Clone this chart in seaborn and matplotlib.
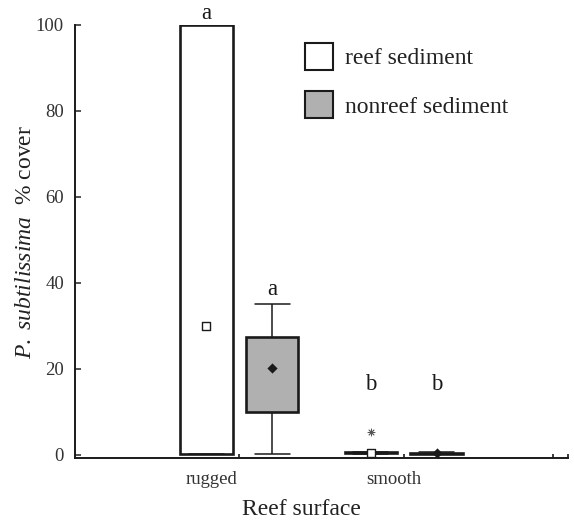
import numpy as np
import pandas as pd
import matplotlib
matplotlib.use("Agg")
import matplotlib.pyplot as plt
from matplotlib.patches import Patch
import seaborn as sns

# ---- data -------------------------------------------------------------
surfaces = ["rugged", "smooth"]
sediments = ["reef sediment", "nonreef sediment"]

# box summaries per (surface, sediment): low whisker, Q1, median, Q3, high whisker
group_surface = ["rugged", "rugged", "smooth", "smooth"]
group_sediment = ["reef sediment", "nonreef sediment", "reef sediment", "nonreef sediment"]
whisker_low = [0.3, 0.3, 0.3, 0.2]
quartile_1 = [0.3, 10.0, 0.4, 0.3]
median = [0.3, 20.2, 0.5, 0.4]
quartile_3 = [100.0, 27.5, 0.6, 0.5]
whisker_high = [100.0, 35.0, 0.7, 0.6]
group_mean = [30.0, 20.2, 0.5, 0.4]

# extreme value
outlier_surface = ["smooth"]
outlier_sediment = ["reef sediment"]
outlier_value = [5.3]

# significance letters
letters = ["a", "a", "b", "b"]
letter_y = [101.3, 37.3, 15.2, 15.2]

# ---- tidy frames ------------------------------------------------------
rows = []
for i in range(len(group_surface)):
    for v in (whisker_low[i], quartile_1[i], median[i], quartile_3[i], whisker_high[i]):
        rows.append({"surface": group_surface[i], "sediment": group_sediment[i], "cover": v})
df = pd.DataFrame(rows)
means = pd.DataFrame({"surface": group_surface, "sediment": group_sediment, "cover": group_mean})
outliers = pd.DataFrame({"surface": outlier_surface, "sediment": outlier_sediment, "cover": outlier_value})

# ---- style ------------------------------------------------------------
sns.set_style("ticks")
plt.rcParams["font.family"] = ["Liberation Serif", "DejaVu Serif"]
plt.rcParams["mathtext.fontset"] = "custom"
plt.rcParams["mathtext.rm"] = "Liberation Serif"
plt.rcParams["mathtext.it"] = "Liberation Serif:italic"

palette = {"reef sediment": "white", "nonreef sediment": "#b0b0b0"}
ink = "#1a1a1a"

fig = plt.figure(figsize=(5.74, 5.24), dpi=100)
ax = fig.add_axes([75 / 574, 66 / 524, 493 / 574, 433 / 524])

sns.boxplot(
    data=df, x="surface", y="cover", hue="sediment",
    order=surfaces, hue_order=sediments, palette=palette,
    saturation=1, gap=0.2, whis=10, showfliers=False,
    linecolor=ink, legend=False, ax=ax,
    boxprops=dict(linewidth=1.9, edgecolor=ink),
    whiskerprops=dict(linewidth=1.1, color=ink),
    capprops=dict(linewidth=1.1, color=ink),
    medianprops=dict(visible=False),
)

# widen the whisker caps
for line in ax.lines:
    x, y = np.asarray(line.get_xdata(), float), np.asarray(line.get_ydata(), float)
    if line.get_visible() and len(x) == 2 and y[0] == y[1] and x[0] != x[1]:
        c, half = x.mean(), 0.107
        line.set_xdata([c - half, c + half])

# group means
sns.stripplot(
    data=means[means.sediment == "reef sediment"], x="surface", y="cover",
    hue="sediment", order=surfaces, hue_order=sediments,
    palette={"reef sediment": "white", "nonreef sediment": "white"},
    dodge=True, jitter=False, marker="s", size=6.2, linewidth=1.0,
    edgecolor=ink, legend=False, ax=ax, zorder=5,
)
sns.stripplot(
    data=means[means.sediment == "nonreef sediment"], x="surface", y="cover",
    hue="sediment", order=surfaces, hue_order=sediments,
    palette={"reef sediment": ink, "nonreef sediment": ink},
    dodge=True, jitter=False, marker="D", size=5.2, linewidth=0,
    legend=False, ax=ax, zorder=5,
)
# extreme value
sns.stripplot(
    data=outliers, x="surface", y="cover",
    hue="sediment", order=surfaces, hue_order=sediments,
    palette={"reef sediment": "#555555", "nonreef sediment": "#555555"},
    dodge=True, jitter=False, marker=(8, 2, 0), size=5, linewidth=0.6,
    edgecolor="#555555", legend=False, ax=ax, zorder=5,
)

# letters above each group
offsets = {"reef sediment": -0.2, "nonreef sediment": 0.2}
for s, sed, lab, yv in zip(group_surface, group_sediment, letters, letter_y):
    xpos = surfaces.index(s) + offsets[sed]
    ax.text(xpos, yv, lab, ha="center", va="baseline", fontsize=16.5,
            color=ink, clip_on=False)

# ---- axes -------------------------------------------------------------
ax.set_xlim(-1.0, 2.0)
ax.set_ylim(-0.7, 100)
ax.set_yticks([0, 20, 40, 60, 80, 100])
ax.tick_params(axis="y", direction="in", length=4, width=1.2, pad=8,
               labelsize=13.5, colors="#333333", labelcolor="#333333")

ax.set_xticks([-0.168, 0.939])
ax.set_xticklabels(surfaces)
ax.set_xticks([0, 1, 1.91, 2.0], minor=True)
ax.tick_params(axis="x", which="major", length=0, pad=9, labelsize=13.5,
               labelcolor="#333333")
ax.tick_params(axis="x", which="minor", direction="in", length=3, width=1.2,
               color=ink)

for side in ("top", "right"):
    ax.spines[side].set_visible(False)
for side in ("left", "bottom"):
    ax.spines[side].set_linewidth(1.4)
    ax.spines[side].set_color(ink)

ax.set_xlabel("Reef surface", fontsize=17, color="#222222")
ax.xaxis.set_label_coords(0.46, -0.095)
ax.set_ylabel(r"$\it{P.\ subtilissima}$  $\it{\%}$ cover", fontsize=17,
              color="#222222")
ax.yaxis.set_label_coords(-0.08, 0.5)

# ---- legend -----------------------------------------------------------
handles = [Patch(facecolor=palette[s], edgecolor=ink, linewidth=1.5) for s in sediments]
fig.legend(handles, sediments, loc="upper left",
           bbox_to_anchor=(305 / 574, 1 - 43 / 524), frameon=False,
           fontsize=17, handlelength=1.2, handleheight=1.4,
           handletextpad=0.5, labelspacing=0.88, borderpad=0, borderaxespad=0,
           labelcolor="#222222")

fig.savefig("out.png", dpi=100)
